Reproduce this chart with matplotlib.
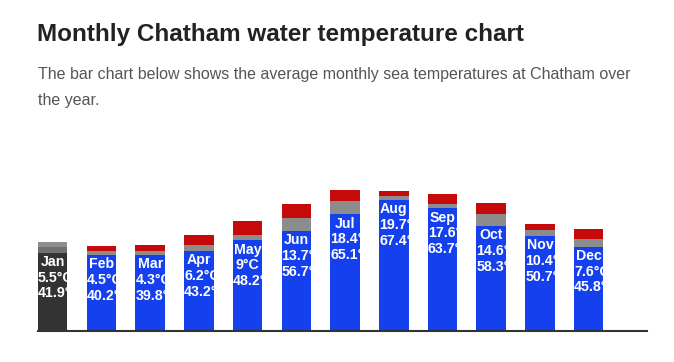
import matplotlib.pyplot as plt
from matplotlib.transforms import offset_copy

months = ['Jan', 'Feb', 'Mar', 'Apr', 'May', 'Jun',
          'Jul', 'Aug', 'Sep', 'Oct', 'Nov', 'Dec']
avg_c = [5.5, 4.5, 4.3, 6.2, 9, 13.7, 18.4, 19.7, 17.6, 14.6, 10.4, 7.6]
avg_f = [41.9, 40.2, 39.8, 43.2, 48.2, 56.7, 65.1, 67.4, 63.7, 58.3, 50.7, 45.8]
min_f = [39.2, 38.0, 38.0, 40.0, 45.3, 50.0, 58.3, 65.5, 61.3, 52.5, 47.5, 42.2]
max_f = [44.3, 42.5, 43.0, 48.0, 55.0, 63.3, 70.3, 70.0, 68.7, 63.8, 53.3, 50.8]
highlight = 'Jan'

W, H = 674, 362
fig = plt.figure(figsize=(W / 100, H / 100), dpi=100)
plt.rcParams['font.family'] = ['Liberation Sans', 'DejaVu Sans']

fig.text(37 / W, 1 - 41 / H, 'Monthly Chatham water temperature chart',
         fontsize=17.5, fontweight='bold', color='#222222', va='baseline')
fig.text(38 / W, 1 - 79.5 / H,
         'The bar chart below shows the average monthly sea temperatures at Chatham over',
         fontsize=11.5, color='#555555', va='baseline')
fig.text(38 / W, 1 - 104.5 / H, 'the year.',
         fontsize=11.5, color='#555555', va='baseline')

# 2 px per degF, baseline at 0 degF
ax = fig.add_axes([38 / W, 31 / H, 609 / W, 160 / H])
ax.set_xlim(0, 12.5)
ax.set_ylim(0, 80)
for s in ['top', 'right', 'left']:
    ax.spines[s].set_visible(False)
ax.spines['bottom'].set_color('#333333')
ax.spines['bottom'].set_linewidth(1.5)
ax.set_xticks([])
ax.set_yticks([])

bw = 0.605
lo = []
for i, m in enumerate(months):
    if m == highlight:
        c1, c2, c3 = '#333333', '#707070', '#8e8e8e'
    else:
        c1, c2, c3 = '#1440ee', '#8c8c8c', '#c60a0a'
    lo.append(ax.bar(i, min_f[i], bw, align='edge', color=c1, zorder=2)[0])
    ax.bar(i, avg_f[i] - min_f[i], bw, bottom=min_f[i], align='edge',
           color=c2, zorder=2)
    ax.bar(i, max_f[i] - avg_f[i], bw, bottom=avg_f[i], align='edge',
           color=c3, zorder=2)

fig.canvas.draw()
renderer = fig.canvas.get_renderer()
bar_px = bw * 609 / 12.5

for i, m in enumerate(months):
    lines = [m, '{:g}°C'.format(avg_c[i]), '{:g}°F'.format(avg_f[i])]
    for k, s in enumerate(lines):
        tr = offset_copy(ax.transData, fig=fig, x=0, y=-(13.2 + 15.8 * k) * 0.72,
                         units='points')
        t = ax.text(i + bw / 2, min_f[i], s, transform=tr, ha='center',
                    va='baseline', color='white', fontsize=10.2,
                    fontweight='bold', zorder=3)
        if t.get_window_extent(renderer).width > bar_px:
            t.set_x(i)
            t.set_ha('left')
        t.set_clip_path(lo[i])

fig.savefig('out.png', dpi=100)
